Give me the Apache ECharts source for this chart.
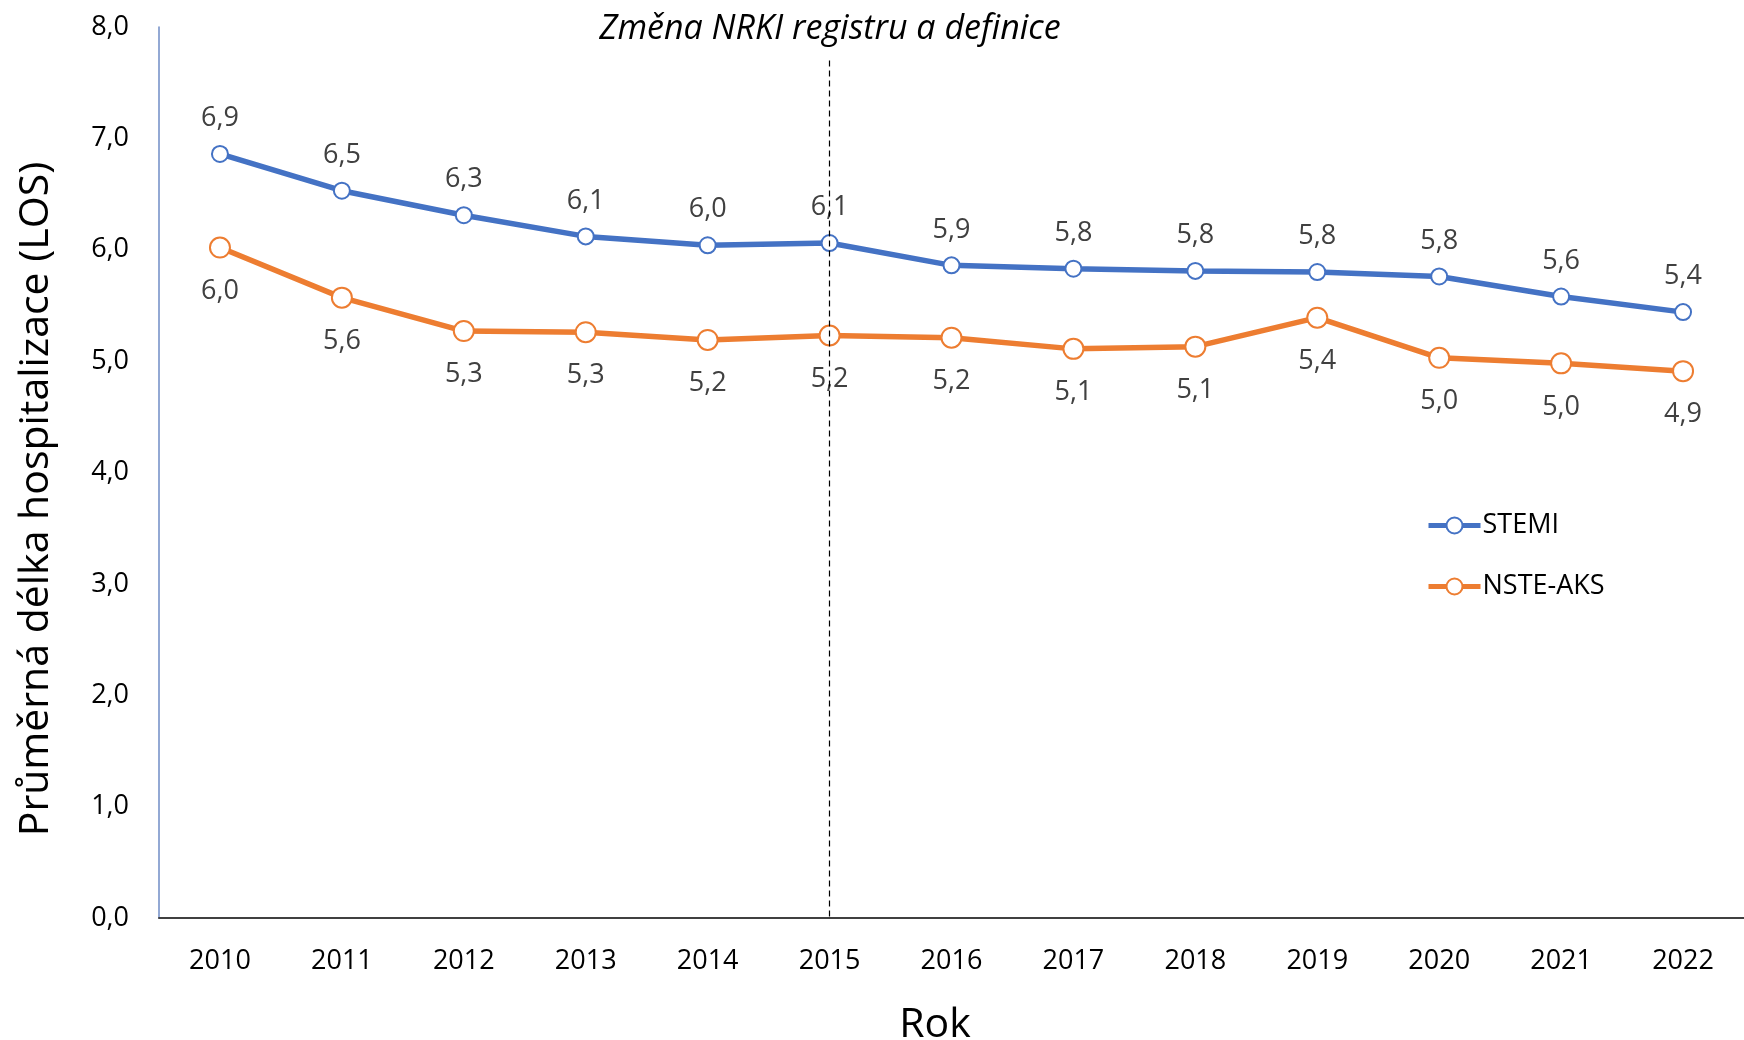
<!DOCTYPE html>
<html>
<head>
<meta charset="utf-8">
<script src="https://cdn.jsdelivr.net/npm/echarts@6/dist/echarts.min.js"></script>
<style>
html,body{margin:0;padding:0;background:#fff;}
#chart{width:1744px;height:1040px;}
</style>
</head>
<body>
<div id="chart"></div>
<script>
const years = ['2010','2011','2012','2013','2014','2015','2016','2017','2018','2019','2020','2021','2022'];
const stemi = [6.86, 6.53, 6.31, 6.12, 6.04, 6.06, 5.86, 5.83, 5.81, 5.80, 5.76, 5.58, 5.44];
const nsteAks = [6.02, 5.57, 5.27, 5.26, 5.19, 5.23, 5.21, 5.11, 5.13, 5.39, 5.03, 4.98, 4.91];
const yTicks = [0, 1, 2, 3, 4, 5, 6, 7, 8];
const changeYear = '2015';
const changeTop = 7.7;

const FONT = "'Open Sans', sans-serif";
const fmt = v => v.toFixed(1).replace('.', ',');

const chart = echarts.init(document.getElementById('chart'), null, {renderer: 'canvas'});
chart.setOption({
  backgroundColor: '#ffffff',
  animation: false,
  textStyle: {fontFamily: FONT},
  grid: {left: 159, width: 1590, top: 27, bottom: 122, containLabel: false},
  legend: {
    orient: 'vertical',
    left: 1421,
    top: 507,
    itemWidth: 52,
    itemHeight: 20,
    itemGap: 34,
    lineStyle: {width: 5},
    textStyle: {fontSize: 27, color: '#000', fontFamily: FONT, padding: [0, 0, 0, -3]},
    data: ['STEMI', 'NSTE-AKS']
  },
  xAxis: {
    type: 'category',
    data: years,
    boundaryGap: true,
    axisLine: {lineStyle: {color: '#404040', width: 2}},
    axisTick: {show: false},
    axisLabel: {fontSize: 27, color: '#000', margin: 30, fontFamily: FONT}
  },
  yAxis: {
    type: 'value',
    min: yTicks[0],
    max: yTicks[yTicks.length - 1],
    interval: 1,
    axisLine: {show: true, lineStyle: {color: '#6F8DC6', width: 1.5}},
    axisTick: {show: false},
    splitLine: {show: false},
    axisLabel: {fontSize: 27, color: '#000', margin: 30, formatter: v => fmt(v), fontFamily: FONT}
  },
  graphic: [
    {type: 'text', style: {text: 'Změna NRKI registru a definice', fontSize: 34, fontStyle: 'italic', fill: '#000', fontFamily: FONT, textAlign: 'center', textVerticalAlign: 'middle'}, position: [830, 29]},
    {type: 'text', style: {text: 'Průměrná délka hospitalizace (LOS)', fontSize: 41, fill: '#000', fontFamily: FONT, textAlign: 'center', textVerticalAlign: 'middle'}, position: [36, 499], rotation: Math.PI / 2},
    {type: 'text', style: {text: 'Rok', fontSize: 41, fill: '#000', fontFamily: FONT, textAlign: 'center', textVerticalAlign: 'middle'}, position: [935, 1025]}
  ],
  series: [
    {
      name: 'STEMI',
      type: 'line',
      data: stemi,
      symbol: 'emptyCircle',
      symbolSize: 16,
      lineStyle: {color: '#4472C4', width: 5.5},
      itemStyle: {color: '#4472C4', borderWidth: 2, borderColor: '#4472C4'},
      label: {show: true, position: 'top', distance: 13, fontSize: 27, color: '#404040', fontFamily: FONT, formatter: p => fmt(p.value)},
      markLine: {
        silent: true,
        symbol: 'none',
        label: {show: false},
        lineStyle: {color: '#000', width: 1.2, type: [6, 4]},
        data: [[{coord: [changeYear, changeTop]}, {coord: [changeYear, 0]}]]
      },
      z: 3
    },
    {
      name: 'NSTE-AKS',
      type: 'line',
      data: nsteAks,
      symbol: 'emptyCircle',
      symbolSize: 20,
      lineStyle: {color: '#ED7D31', width: 5.5},
      itemStyle: {color: '#ED7D31', borderWidth: 2.2, borderColor: '#ED7D31'},
      label: {show: true, position: 'bottom', distance: 19, fontSize: 27, color: '#404040', fontFamily: FONT, formatter: p => fmt(p.value)},
      z: 2
    }
  ]
});
</script>
</body>
</html>
